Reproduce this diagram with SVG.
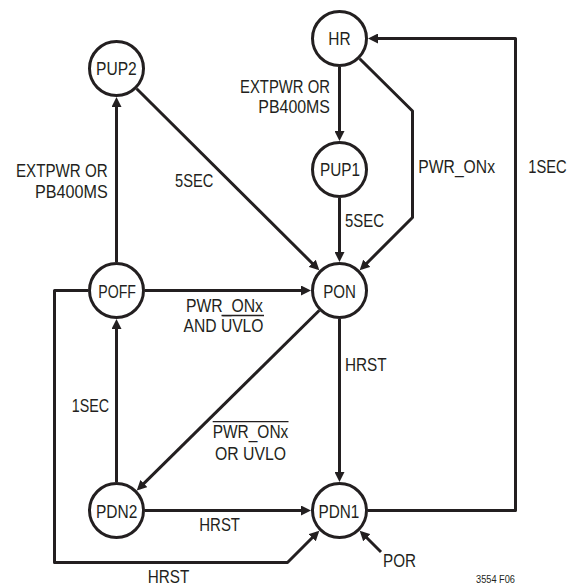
<svg xmlns="http://www.w3.org/2000/svg" width="574" height="585" viewBox="0 0 574 585">
<style>
.n{fill:#fff;stroke:#231f20;stroke-width:3}
.c{fill:none;stroke:#231f20;stroke-width:3;stroke-linejoin:round}
.a{marker-end:url(#ah)}
.t{font-family:"Liberation Sans",Arial,sans-serif;font-size:18px;fill:#231f20}
.s{font-family:"Liberation Sans",Arial,sans-serif;font-size:10px;fill:#231f20}
.o{stroke:#231f20;stroke-width:1.3}
</style>
<defs>
<marker id="ah" markerUnits="userSpaceOnUse" viewBox="0 0 10 10" markerWidth="10" markerHeight="10" refX="7" refY="5" orient="auto">
<path d="M0,0 L10,5 L0,10 z" fill="#231f20"/>
</marker>
</defs>
<rect width="574" height="585" fill="#fff"/>
<g id="connectors">
<path class="c a" d="M339.5,67 V138"/>
<path class="c a" d="M339.5,198 V259"/>
<path class="c a" d="M339.5,319 V479"/>
<path class="c a" d="M116.5,262 V100"/>
<path class="c a" d="M116.5,482 V322"/>
<path class="c a" d="M145,290.5 H308"/>
<path class="c a" d="M145,510.5 H308"/>
<path class="c a" d="M136.7,88.7 L317.2,268.2"/>
<path class="c a" d="M319.2,310.5 L138.9,488.4"/>
<path class="c a" d="M359.7,58.7 L412.5,111 V217.5 L361.8,268.2"/>
<path class="c a" d="M368,510.5 H515.5 V38.5 H371"/>
<path class="c a" d="M88,290.5 H54.5 V562.5 H287.5 L317.2,532.8"/>
<path class="c a" d="M381,552 L361.8,532.8"/>
</g>
<g id="labels">
<text class="t" x="240" y="92.7" textLength="90" lengthAdjust="spacingAndGlyphs">EXTPWR OR</text>
<text class="t" x="258.3" y="113.3" textLength="71.7" lengthAdjust="spacingAndGlyphs">PB400MS</text>
<text class="t" x="16" y="177" textLength="91.7" lengthAdjust="spacingAndGlyphs">EXTPWR OR</text>
<text class="t" x="35" y="198" textLength="72.7" lengthAdjust="spacingAndGlyphs">PB400MS</text>
<text class="t" x="175" y="186.5" textLength="38.3" lengthAdjust="spacingAndGlyphs">5SEC</text>
<text class="t" x="345" y="226.5" textLength="39" lengthAdjust="spacingAndGlyphs">5SEC</text>
<text class="t" x="418.3" y="173" textLength="76.7" lengthAdjust="spacingAndGlyphs">PWR_ONx</text>
<text class="t" x="528.3" y="173" textLength="38.4" lengthAdjust="spacingAndGlyphs">1SEC</text>
<text class="t" x="186" y="311.5" textLength="77" lengthAdjust="spacingAndGlyphs">PWR_ONx</text>
<text class="t" x="183.5" y="332" textLength="80" lengthAdjust="spacingAndGlyphs">AND UVLO</text>
<line class="o" x1="221.5" y1="315.5" x2="264" y2="315.5"/>
<text class="t" x="71.7" y="411.5" textLength="37.3" lengthAdjust="spacingAndGlyphs">1SEC</text>
<text class="t" x="345" y="370.5" textLength="41.7" lengthAdjust="spacingAndGlyphs">HRST</text>
<text class="t" x="212.7" y="438.3" textLength="75.6" lengthAdjust="spacingAndGlyphs">PWR_ONx</text>
<line class="o" x1="212.7" y1="421.7" x2="288.5" y2="421.7"/>
<text class="t" x="215" y="460" textLength="71" lengthAdjust="spacingAndGlyphs">OR UVLO</text>
<text class="t" x="199.3" y="531" textLength="40.7" lengthAdjust="spacingAndGlyphs">HRST</text>
<text class="t" x="147.7" y="582.5" textLength="41.6" lengthAdjust="spacingAndGlyphs">HRST</text>
<text class="t" x="383" y="567" textLength="33" lengthAdjust="spacingAndGlyphs">POR</text>
<text class="s" x="476" y="583" textLength="39" lengthAdjust="spacingAndGlyphs">3554 F06</text>
</g>
<g id="PUP2"><circle class="n" cx="116.5" cy="68.5" r="27"/><text class="t" x="96" y="75" textLength="40.7" lengthAdjust="spacingAndGlyphs">PUP2</text></g>
<g id="HR"><circle class="n" cx="339.5" cy="38.5" r="27"/><text class="t" x="328.3" y="45" textLength="22.3" lengthAdjust="spacingAndGlyphs">HR</text></g>
<g id="PUP1"><circle class="n" cx="339.5" cy="169.5" r="27"/><text class="t" x="320" y="175.5" textLength="40" lengthAdjust="spacingAndGlyphs">PUP1</text></g>
<g id="POFF"><circle class="n" cx="116.5" cy="290.5" r="27"/><text class="t" x="98.3" y="297.5" textLength="37.7" lengthAdjust="spacingAndGlyphs">POFF</text></g>
<g id="PON"><circle class="n" cx="339.5" cy="290.5" r="27"/><text class="t" x="323.3" y="297.5" textLength="32.7" lengthAdjust="spacingAndGlyphs">PON</text></g>
<g id="PDN2"><circle class="n" cx="116.5" cy="510.5" r="27"/><text class="t" x="96" y="517.5" textLength="41.3" lengthAdjust="spacingAndGlyphs">PDN2</text></g>
<g id="PDN1"><circle class="n" cx="339.5" cy="510.5" r="27"/><text class="t" x="318.5" y="517.5" textLength="40.8" lengthAdjust="spacingAndGlyphs">PDN1</text></g>
</svg>
